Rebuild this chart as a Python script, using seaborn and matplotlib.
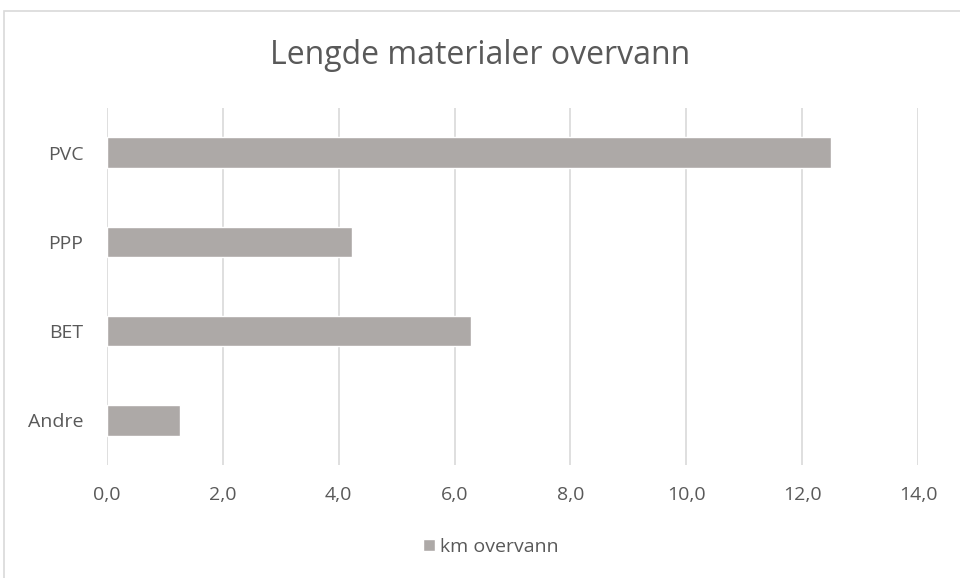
import matplotlib
matplotlib.use("Agg")
import matplotlib.pyplot as plt
from matplotlib.patches import Rectangle, Patch
from matplotlib.ticker import FuncFormatter
import seaborn as sns
import pandas as pd

categories = ["PVC", "PPP", "BET", "Andre"]
km_overvann = [12.5, 4.23, 6.28, 1.26]
series_name = "km overvann"
title = "Lengde materialer overvann"
x_ticks = [0, 2, 4, 6, 8, 10, 12, 14]

bar_color = "#ADA9A7"
text_color = "#595959"
grid_color = "#D9D9D9"

sns.set_theme(style="white")
plt.rcParams["font.family"] = ["Open Sans", "DejaVu Sans"]

df = pd.DataFrame({"material": categories, "km": km_overvann})

fig = plt.figure(figsize=(9.6, 5.78), dpi=100)
fig.patch.set_facecolor("white")

# light frame around the chart area
fig.patches.append(Rectangle((4 / 960, -0.05), 1.2, 1 - 11 / 578 + 0.05,
                             transform=fig.transFigure, fill=False,
                             edgecolor="#D9D9D9", linewidth=1.2))

ax = fig.add_axes([107 / 960, 1 - 465 / 578, (918 - 107) / 960, (465 - 108) / 578])
sns.barplot(data=df, x="km", y="material", order=categories, color=bar_color,
            width=0.34, saturation=1, ax=ax)

ax.set_xlim(0, 14)
ax.set_xticks(x_ticks)
ax.xaxis.set_major_formatter(FuncFormatter(lambda v, p: f"{v:.1f}".replace(".", ",")))
ax.grid(axis="x", color=grid_color, linewidth=1.2)
ax.set_axisbelow(True)
for s in ax.spines.values():
    s.set_visible(False)
ax.set_xlabel("")
ax.set_ylabel("")
ax.tick_params(axis="both", length=0, labelsize=14, colors=text_color)
ax.tick_params(axis="x", pad=15)
ax.tick_params(axis="y", pad=17)

fig.text(0.5, 1 - 55 / 578, title, ha="center", va="center",
         fontsize=23, color=text_color)

fig.legend(handles=[Patch(facecolor=bar_color, label=series_name)],
           loc="center", bbox_to_anchor=(491 / 960, 1 - 547 / 578),
           frameon=False, fontsize=14, labelcolor=text_color,
           handlelength=0.6, handleheight=0.6, handletextpad=0.3)

fig.savefig("out.png", dpi=100)
